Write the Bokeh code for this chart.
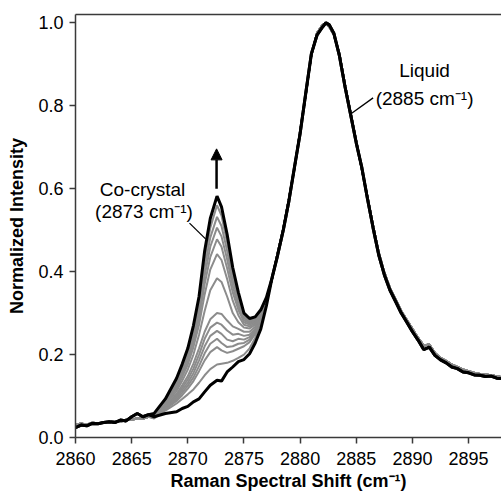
from bokeh.plotting import figure
from bokeh.models import (Range1d, LinearAxis, FixedTicker, Label, Arrow,
                          NormalHead, NumeralTickFormatter)
from bokeh.embed import file_html
from bokeh.resources import INLINE

# ---------------- data ----------------
# shared baseline region (left)
x_left = [2860, 2860.5, 2861, 2861.5, 2862, 2862.5, 2863, 2863.5, 2864,
          2864.5, 2865, 2865.5, 2866, 2866.5]
left_gray = [0.030, 0.034, 0.031, 0.036, 0.033, 0.037, 0.036, 0.040, 0.038,
             0.043, 0.042, 0.047, 0.045, 0.050]
left_black = [0.024, 0.030, 0.028, 0.034, 0.033, 0.036, 0.038, 0.036, 0.042,
              0.040, 0.050, 0.058, 0.050, 0.055]

# co-crystal band region (each spectrum differs here)
x_mid = [2867, 2868, 2869, 2869.5, 2870, 2870.5, 2871, 2871.5, 2872, 2872.6,
         2873, 2873.5, 2874, 2874.5, 2875, 2875.5, 2876, 2876.5, 2877]
final_black = [0.058, 0.093, 0.143, 0.177, 0.215, 0.270, 0.340, 0.450, 0.528, 0.582,
               0.556, 0.490, 0.410, 0.350, 0.300, 0.287, 0.291, 0.308, 0.338]
initial_black = [0.050, 0.058, 0.062, 0.070, 0.075, 0.086, 0.093, 0.110, 0.126, 0.138,
                 0.136, 0.158, 0.170, 0.183, 0.188, 0.202, 0.228, 0.262, 0.318]
gray_1 = [0.057, 0.090, 0.138, 0.170, 0.207, 0.260, 0.325, 0.430, 0.505, 0.560,
          0.535, 0.470, 0.395, 0.340, 0.293, 0.282, 0.287, 0.305, 0.336]
gray_2 = [0.056, 0.088, 0.133, 0.165, 0.200, 0.250, 0.312, 0.410, 0.482, 0.532,
          0.510, 0.450, 0.380, 0.330, 0.288, 0.278, 0.284, 0.303, 0.335]
gray_3 = [0.055, 0.086, 0.128, 0.160, 0.193, 0.240, 0.300, 0.390, 0.460, 0.506,
          0.485, 0.430, 0.365, 0.318, 0.283, 0.275, 0.282, 0.301, 0.334]
gray_4 = [0.054, 0.084, 0.123, 0.153, 0.185, 0.230, 0.287, 0.370, 0.435, 0.478,
          0.460, 0.408, 0.350, 0.308, 0.278, 0.272, 0.279, 0.299, 0.333]
gray_5 = [0.053, 0.082, 0.118, 0.146, 0.176, 0.218, 0.272, 0.345, 0.405, 0.442,
          0.428, 0.382, 0.330, 0.295, 0.272, 0.268, 0.276, 0.297, 0.332]
gray_6 = [0.052, 0.079, 0.112, 0.137, 0.164, 0.200, 0.248, 0.305, 0.355, 0.384,
          0.375, 0.340, 0.300, 0.278, 0.265, 0.263, 0.272, 0.295, 0.330]
gray_7 = [0.051, 0.076, 0.105, 0.126, 0.148, 0.178, 0.215, 0.255, 0.285, 0.300,
          0.298, 0.282, 0.268, 0.262, 0.255, 0.255, 0.267, 0.292, 0.328]
gray_8 = [0.050, 0.074, 0.100, 0.120, 0.140, 0.166, 0.200, 0.238, 0.265, 0.277,
          0.272, 0.258, 0.248, 0.250, 0.245, 0.248, 0.262, 0.290, 0.327]
gray_9 = [0.049, 0.072, 0.096, 0.114, 0.132, 0.155, 0.186, 0.220, 0.245, 0.257,
          0.250, 0.236, 0.232, 0.238, 0.236, 0.242, 0.258, 0.288, 0.326]
gray_10 = [0.048, 0.070, 0.092, 0.108, 0.125, 0.145, 0.172, 0.203, 0.226, 0.238,
           0.228, 0.218, 0.220, 0.226, 0.228, 0.236, 0.254, 0.286, 0.325]
gray_11 = [0.047, 0.068, 0.088, 0.102, 0.118, 0.136, 0.160, 0.186, 0.206, 0.218,
           0.210, 0.204, 0.208, 0.214, 0.220, 0.230, 0.250, 0.283, 0.324]
gray_12 = [0.046, 0.065, 0.082, 0.093, 0.104, 0.116, 0.132, 0.150, 0.165, 0.176,
           0.178, 0.180, 0.185, 0.192, 0.200, 0.215, 0.240, 0.278, 0.322]
gray_series = [gray_1, gray_2, gray_3, gray_4, gray_5, gray_6, gray_7, gray_8,
               gray_9, gray_10, gray_11, gray_12]

# liquid band region (shared by all spectra)
x_right = [2877.5, 2878, 2878.5, 2879, 2879.5, 2880, 2880.5, 2881, 2881.5, 2882,
           2882.3, 2882.6, 2883, 2883.5, 2884, 2884.5, 2885, 2885.5, 2886, 2886.5,
           2887, 2887.5, 2888, 2888.5, 2889, 2889.5, 2890, 2890.5, 2891, 2891.5,
           2892, 2892.5, 2893, 2893.5, 2894, 2894.5, 2895, 2895.5, 2896, 2896.5,
           2897, 2897.5, 2898]
right_black = [0.385, 0.440, 0.500, 0.570, 0.652, 0.733, 0.830, 0.925, 0.970, 0.990,
               1.000, 0.995, 0.975, 0.920, 0.845, 0.778, 0.710, 0.650, 0.575, 0.505,
               0.440, 0.392, 0.355, 0.328, 0.300, 0.278, 0.255, 0.235, 0.212, 0.218,
               0.198, 0.187, 0.180, 0.170, 0.166, 0.158, 0.156, 0.151, 0.150, 0.147,
               0.148, 0.143, 0.142]
right_gray = [0.383, 0.445, 0.503, 0.575, 0.650, 0.738, 0.826, 0.922, 0.975, 0.995,
              0.998, 0.990, 0.972, 0.925, 0.850, 0.782, 0.714, 0.646, 0.580, 0.510,
              0.446, 0.398, 0.360, 0.333, 0.305, 0.283, 0.262, 0.240, 0.222, 0.224,
              0.204, 0.192, 0.185, 0.176, 0.170, 0.164, 0.160, 0.156, 0.153, 0.152,
              0.150, 0.148, 0.145]

x_ticks = [2860, 2865, 2870, 2875, 2880, 2885, 2890, 2895]
y_ticks = [0.0, 0.2, 0.4, 0.6, 0.8, 1.0]

# annotation geometry
cocrystal_leader_x = [2870.15, 2871.58]
cocrystal_leader_y = [0.517, 0.479]
liquid_leader_x = [2886.5, 2884.5]
liquid_leader_y = [0.819, 0.780]

# ---------------- figure ----------------
FONT = "Liberation Sans"
p = figure(frame_width=426, frame_height=423,
           min_border_left=75, min_border_right=0,
           min_border_top=14, min_border_bottom=56,
           x_range=Range1d(2860, 2897.93), y_range=Range1d(0, 1.02),
           output_backend="svg", toolbar_location=None)
p.outline_line_color = None
p.xgrid.visible = False
p.ygrid.visible = False
p.background_fill_color = "white"
p.border_fill_color = "white"

axis_col = "#3a3a3a"
for ax in (p.xaxis[0], p.yaxis[0]):
    ax.axis_line_color = axis_col
    ax.axis_line_width = 1.5
    ax.major_tick_line_color = axis_col
    ax.major_tick_line_width = 1.5
    ax.major_tick_in = 0
    ax.major_tick_out = 6
    ax.minor_tick_line_color = None
    ax.major_label_text_font = FONT
    ax.major_label_text_font_size = "18px"
    ax.major_label_text_color = "black"
    ax.axis_label_text_font = FONT
    ax.axis_label_text_font_size = "18px"
    ax.axis_label_text_font_style = "bold"
    ax.axis_label_text_color = "black"

p.xaxis.ticker = FixedTicker(ticks=x_ticks)
p.yaxis.ticker = FixedTicker(ticks=y_ticks)
p.yaxis.formatter = NumeralTickFormatter(format="0.0")
p.xaxis.axis_label = "Raman Spectral Shift (cm⁻¹)"
p.yaxis.axis_label = "Normalized Intensity"
p.xaxis.major_label_standoff = 8
p.yaxis.major_label_standoff = 6
p.xaxis.axis_label_standoff = 3
p.yaxis.axis_label_standoff = 8

top = LinearAxis(ticker=FixedTicker(ticks=[]), major_label_text_font_size="0px",
                 major_tick_out=0, major_tick_in=0, minor_tick_out=0, minor_tick_in=0,
                 axis_line_color=axis_col, axis_line_width=1.5)
p.add_layout(top, "above")

gray_col = "#8c8c8c"
for g in gray_series:
    xs = x_left + x_mid + x_right
    ys = left_gray + g + right_gray
    p.line(xs, ys, line_color=gray_col, line_width=2)

p.line(x_left + x_mid + x_right, left_black + initial_black + right_black,
       line_color="black", line_width=3)
p.line(x_left + x_mid + x_right, left_black + final_black + right_black,
       line_color="black", line_width=3)

# leaders
p.line(cocrystal_leader_x, cocrystal_leader_y, line_color="black", line_width=1.3)
p.line(liquid_leader_x, liquid_leader_y, line_color="black", line_width=1.3)

p.add_layout(Arrow(end=NormalHead(size=11, fill_color="black", line_color="black"),
                   x_start=2872.56, y_start=0.600, x_end=2872.56, y_end=0.696,
                   line_width=2.5, line_color="black"))

def lab(x, y, t):
    p.add_layout(Label(x=x, y=y, text=t, text_align="center",
                       text_baseline="alphabetic", text_font=FONT,
                       text_font_size="19px", text_color="black"))

lab(2865.97, 0.597, "Co-crystal")
lab(2866.1, 0.546, "(2873 cm⁻¹)")
lab(2891.08, 0.885, "Liquid")
lab(2891.08, 0.817, "(2885 cm⁻¹)")

open("out.html", "w").write(file_html(p, INLINE))
